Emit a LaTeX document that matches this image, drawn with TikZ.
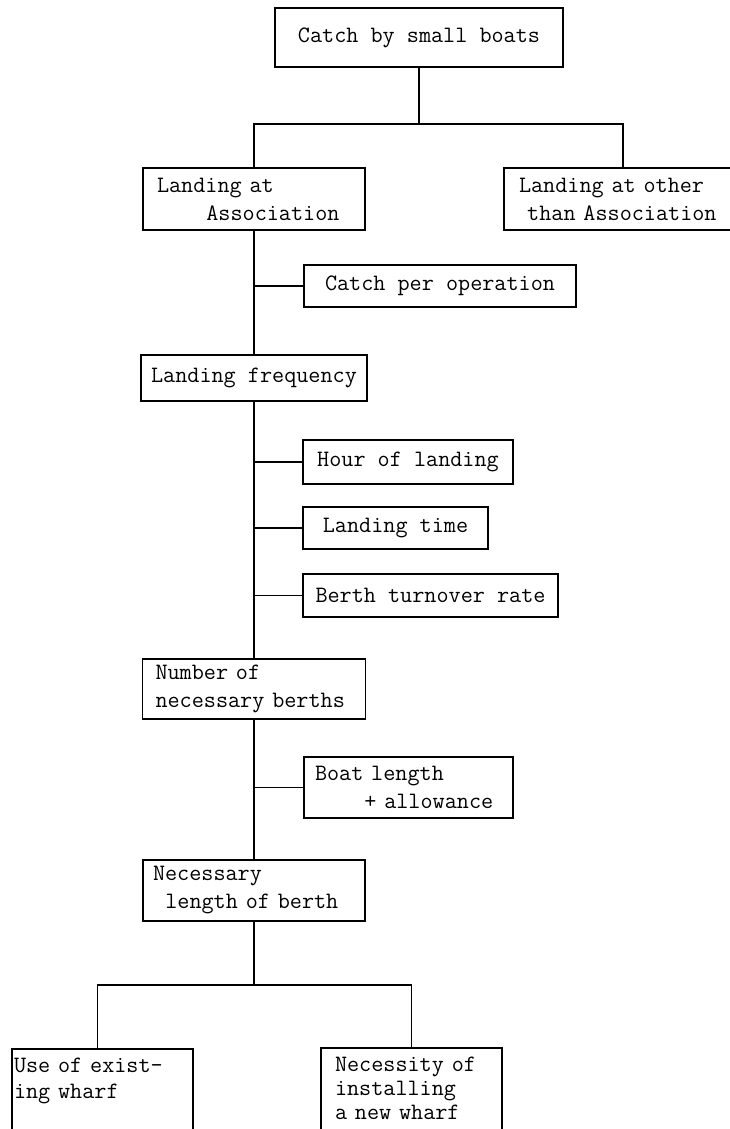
\documentclass[tikz,border=0pt]{standalone}
\usepackage{tikz}
\usetikzlibrary{positioning, calc}

\begin{document}
\begin{tikzpicture}[
    x=1pt, y=-1pt,
    stage/.style={rectangle, draw, line width=1.8pt, inner xsep=10pt, inner ysep=0pt, font=\fontsize{23.5}{28}\selectfont\ttfamily, align=center},
    note/.style={stage, align=left},
    link/.style={line width=1.5pt}
]
\useasboundingbox (0,0) rectangle (730,1129);
\clip (0,0) rectangle (730,1129);

\node[stage, minimum width=288pt, minimum height=59pt] (catch) at (419,37.5) {Catch by small boats};

\node[note, inner xsep=14pt, text width=194pt, minimum height=62pt] (assoc) at (254,199) {Landing at\\\hspace*{2.1em}Association};
\node[note, inner xsep=15pt, text width=208pt, minimum height=62pt] (other) at (623,199) {Landing at other\\\hspace*{0.35em}than Association};

\node[stage, minimum width=272pt, minimum height=42pt] (perop) at (440,286) {Catch per operation};
\node[stage, minimum width=223pt, minimum height=46pt] (freq) at (254,378) {Landing frequency};

\node[stage, minimum width=210pt, minimum height=44pt] (hour) at (408,462) {Hour of landing};
\node[stage, minimum width=185pt, minimum height=42pt] (ltime) at (395.5,528) {Landing time};
\node[stage, minimum width=255pt, minimum height=43pt] (turn) at (430.5,595.5) {Berth turnover rate};

\node[note, inner xsep=13pt, text width=197pt, minimum height=60pt] (berths) at (254,689) {Number of\\necessary berths};
\node[note, inner xsep=11pt, text width=187pt, minimum height=61pt] (boat) at (408.5,787.5) {Boat length\\\hspace*{2.1em}+ allowance};
\node[note, inner xsep=10pt, text width=202pt, minimum height=61pt] (length) at (254,890.5) {Necessary\\\hspace*{0.525em}length of berth};

% open boxes at the foot, cut by the page edge
\node[note, anchor=north, inner xsep=2pt, inner ysep=9pt, text width=177pt, text depth=120pt, font=\fontsize{23.5}{26}\selectfont\ttfamily] (exist) at (102.5,1048) {Use of exist-\\ing wharf};
\node[note, anchor=north, inner xsep=14pt, inner ysep=9pt, text width=153pt, text depth=120pt, font=\fontsize{23.5}{24}\selectfont\ttfamily] (newwh) at (411.5,1047) {Necessity of\\installing\\a new wharf};

\coordinate (j1) at ($(catch.south)+(0,56)$);
\draw[link] (catch.south) -- (j1);
\draw[link] (assoc.north) |- (j1) -| (other.north);

\draw[link] (assoc.south) -- (freq.north);
\draw[link] (perop.west) -- (perop.west -| assoc.south);
\draw[link] (freq.south) -- (berths.north);
\foreach \n in {hour, ltime, turn}
    \draw[link] (\n.west) -- (\n.west -| freq.south);
\draw[link] (berths.south) -- (length.north);
\draw[link] (boat.west) -- (boat.west -| berths.south);

\coordinate (j2) at ($(length.south)+(0,63)$);
\coordinate (e1) at ($(exist.north)+(-5,0)$);
\draw[link] (length.south) -- (j2);
\draw[link] (e1) |- (j2) -| (newwh.north);

\end{tikzpicture}
\end{document}
